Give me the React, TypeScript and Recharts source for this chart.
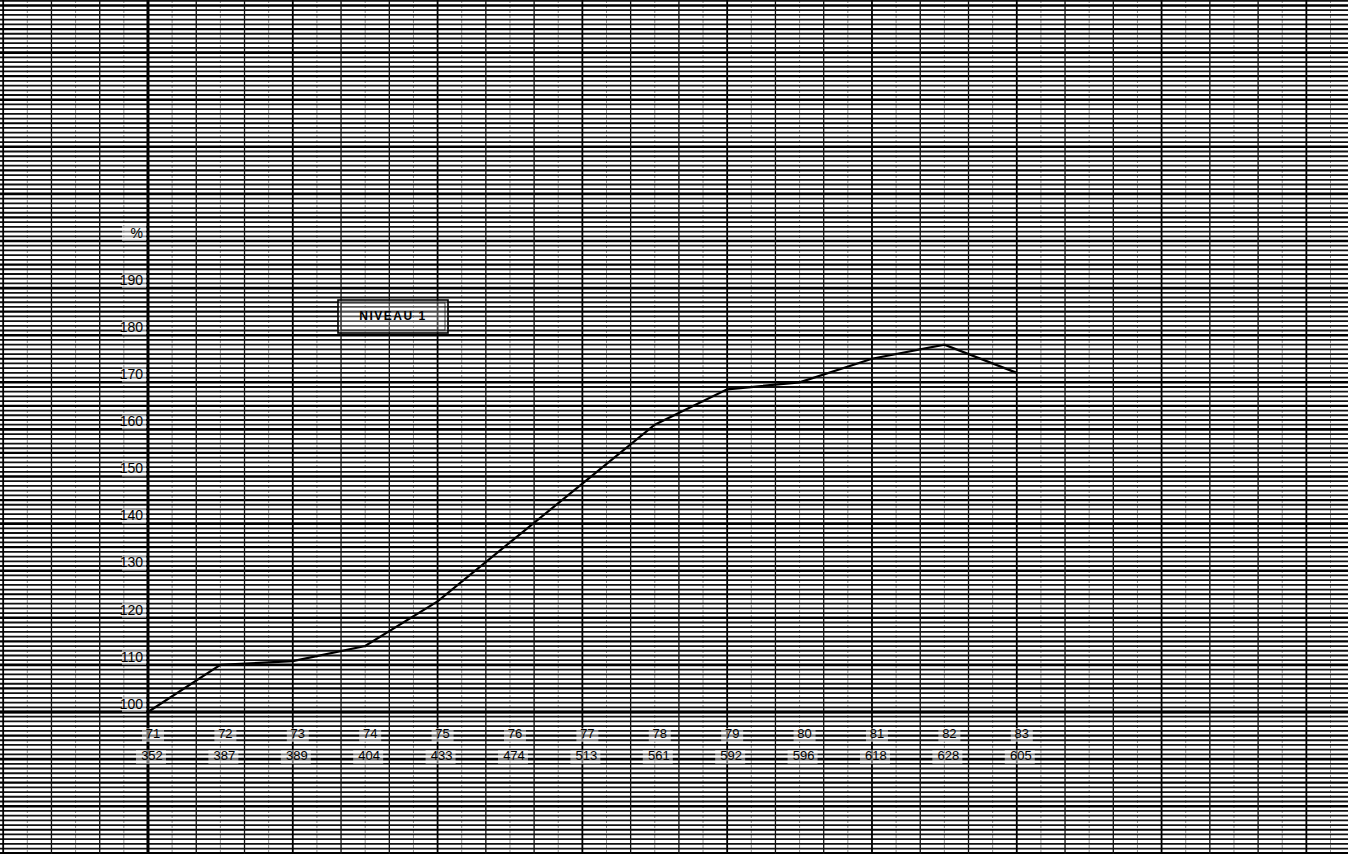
import React from 'react';
import { LineChart, Line, XAxis, YAxis, CartesianGrid, ReferenceLine, Legend } from 'recharts';

// ---- data ----
const years = [71, 72, 73, 74, 75, 76, 77, 78, 79, 80, 81, 82, 83];
const indexValues = [100, 110, 110.8, 114, 123.5, 136, 148.5, 161, 168.5, 170, 175, 178, 172];
const rawValues = ['352', '387', '389', '404', '433', '474', '513', '561', '592', '596', '618', '628', '605'];
const yTicks = [100, 110, 120, 130, 140, 150, 160, 170, 180, 190, 200];
const yTickLabels = ['100', '110', '120', '130', '140', '150', '160', '170', '180', '190', '%'];
const seriesName = 'NIVEAU  1';

const data = years.map((y, i) => ({ year: y, value: indexValues[i] }));

// ---- layout ----
const W = 1348;
const H = 854;
const X_DOMAIN: [number, number] = [68.956, 87.575];
const Y_DOMAIN: [number, number] = [69.85, 251.17];
const FONT = "'Liberation Sans', Arial, sans-serif";

// graph-paper grid positions (in axis units)
const unitLines: number[] = [];
const fiveLines: number[] = [];
const tenLines: number[] = [];
for (let v = 70; v <= 251; v++) {
  if (v % 10 === 0) tenLines.push(v);
  else if (v % 5 === 0) fiveLines.push(v);
  else unitLines.push(v);
}
const vLines: number[] = [];
const vLinesMed: number[] = [];
const vHalf: number[] = [];
for (let k = -3; k <= 25; k++) {
  const v = 71 + (k * 2) / 3;
  if (k % 3 === 0) vLinesMed.push(v);
  else vLines.push(v);
  vHalf.push(v + 1 / 3);
}

const YTick = (props: any) => {
  const { y, payload } = props;
  const idx = yTicks.indexOf(payload.value);
  const label = idx >= 0 ? yTickLabels[idx] : String(payload.value);
  return (
    <g>
      <rect x={122} y={y - 15} width={24} height={15} fill="#fff" opacity={0.5} />
      <text x={143} y={y - 7} textAnchor="end" dominantBaseline="middle" fontSize={14} fill="#000"
        fontFamily={FONT}>{label}</text>
    </g>
  );
};

const XTick = (props: any) => {
  const { x, y, payload } = props;
  const idx = years.indexOf(payload.value);
  const base = y; // bottom edge of the plot
  return (
    <g>
      <rect x={x - 6} y={base - 118} width={22} height={14} fill="#fff" opacity={0.45} />
      <text x={x + 5} y={base - 111} textAnchor="middle" dominantBaseline="middle" fontSize={13}
        fill="#000" fontFamily={FONT}>{payload.value}</text>
      <rect x={x - 12} y={base - 96} width={30} height={14} fill="#fff" opacity={0.45} />
      <text x={x + 4} y={base - 89} textAnchor="middle" dominantBaseline="middle" fontSize={13}
        fill="#000" fontFamily={FONT}>{idx >= 0 ? rawValues[idx] : ''}</text>
    </g>
  );
};

const LegendBox = () => (
  <svg width={114} height={38}>
    <rect x={1} y={1} width={110} height={33} fill="#fff" fillOpacity={0.3} stroke="#000" strokeWidth={1.6} />
    <rect x={4} y={4} width={104} height={27} fill="none" stroke="#000" strokeWidth={0.7} />
    <text x={56} y={18} textAnchor="middle" dominantBaseline="middle" fontSize={12} letterSpacing={1.5}
      fontWeight="bold" fontFamily={FONT} fill="#000">{seriesName}</text>
  </svg>
);

export default function App() {
  return (
    <div style={{ position: 'absolute', left: 0, top: 0, width: W, height: H, background: '#fff' }}>
      <LineChart width={W} height={H} data={data} margin={{ top: 0, right: 0, bottom: 0, left: 0 }}>
        <XAxis type="number" dataKey="year" domain={X_DOMAIN} allowDataOverflow ticks={years}
          orientation="bottom" mirror axisLine={false} tickLine={false} tick={<XTick />} interval={0} />
        <YAxis type="number" domain={Y_DOMAIN} allowDataOverflow ticks={yTicks} mirror
          axisLine={false} tickLine={false} tick={<YTick />} interval={0} />
        <CartesianGrid horizontal={false} verticalValues={vHalf} stroke="#777" strokeWidth={0.8} strokeDasharray="3 2" />
        <CartesianGrid vertical={false} horizontalValues={unitLines} stroke="#111" strokeWidth={1.8} />
        <CartesianGrid vertical={false} horizontalValues={fiveLines} stroke="#000" strokeWidth={2.2} />
        <CartesianGrid vertical={false} horizontalValues={tenLines} stroke="#000" strokeWidth={2.6} />
        <CartesianGrid horizontal={false} verticalValues={vLines} stroke="#111" strokeWidth={1.3} />
        <CartesianGrid horizontal={false} verticalValues={vLinesMed} stroke="#000" strokeWidth={1.8} />
        <ReferenceLine x={71} stroke="#000" strokeWidth={3} />
        <ReferenceLine y={100} stroke="#000" strokeWidth={3} />
        <Legend layout="horizontal" verticalAlign="middle" align="center" content={<LegendBox />}
          wrapperStyle={{ position: 'absolute', left: 337, top: 299, width: 114, height: 38 }} />
        <Line type="linear" dataKey="value" name={seriesName} stroke="#000" strokeWidth={2.2}
          dot={false} activeDot={false} isAnimationActive={false} />
      </LineChart>
    </div>
  );
}
